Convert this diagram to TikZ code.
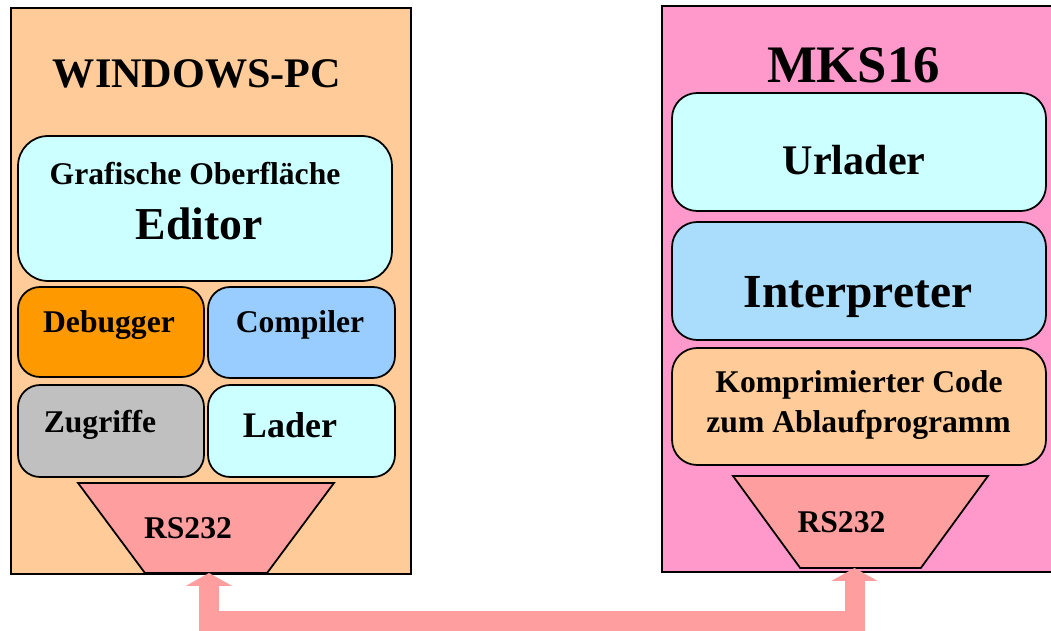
\documentclass[tikz,border=0pt]{standalone}
\usepackage{fontspec}
\setmainfont{Liberation Serif}
\usetikzlibrary{arrows.meta, positioning, shapes.geometric}
\definecolor{pcpeach}{RGB}{255, 204, 153}
\definecolor{mkspink}{RGB}{255, 153, 204}
\definecolor{lightcyan}{RGB}{204, 255, 255}
\definecolor{dbgorange}{RGB}{255, 153, 0}
\definecolor{cmpblue}{RGB}{153, 204, 255}
\definecolor{accgray}{RGB}{192, 192, 192}
\definecolor{intblue}{RGB}{170, 221, 252}
\definecolor{rsred}{RGB}{255, 158, 158}

\begin{document}
\begin{tikzpicture}[x=0.02cm, y=-0.02cm,
  panel/.style={draw, line width=0.9pt, rectangle, inner sep=0pt, outer sep=0pt},
  module/.style={draw, line width=1pt, rectangle, rounded corners=#1, inner sep=0pt, outer sep=0pt},
  module/.default=0.44cm,
  port/.style={draw, line width=1pt, fill=rsred, trapezium, trapezium stretches=true,
    shape border rotate=180, inner sep=2pt, outer sep=0pt},
  lbl/.style={font=\bfseries\fontsize{#1}{#1}\selectfont, anchor=base, inner sep=0pt},
  link/.style={draw=rsred, line width=0.4cm,
    {Triangle[width=0.92cm, length=0.26cm]}-{Triangle[width=0.92cm, length=0.26cm]}}]
\useasboundingbox (0,0) rectangle (1051,631);
\clip (0,0) rectangle (1051,631);

% Windows PC side
\node[panel, fill=pcpeach, minimum width=8cm, minimum height=11.32cm] (pc) at (211,291) {};
\node[module=0.6cm, fill=lightcyan, minimum width=7.48cm, minimum height=2.9cm] (editor) at (205,208.5) {};
\node[module, fill=dbgorange, minimum width=3.72cm, minimum height=1.8cm] (debugger) at (111,332) {};
\node[module, fill=cmpblue, minimum width=3.74cm, minimum height=1.82cm] (compiler) at (301.5,332.5) {};
\node[module, fill=accgray, minimum width=3.72cm, minimum height=1.84cm] (zugriffe) at (111,431) {};
\node[module, fill=lightcyan, minimum width=3.74cm, minimum height=1.84cm] (lader) at (301.5,431) {};
\node[port, minimum width=5.12cm, minimum height=1.8cm, trapezium angle=61.3] (pcrs) at (206,528) {};

% MKS16 side
\node[panel, fill=mkspink, minimum width=8cm, minimum height=11.32cm] (mks) at (862,289) {};
\node[module=0.5cm, fill=lightcyan, minimum width=7.48cm, minimum height=2.36cm] (urlader) at (859,152) {};
\node[module=0.5cm, fill=intblue, minimum width=7.48cm, minimum height=2.36cm] (interp) at (859,281) {};
\node[module=0.5cm, fill=pcpeach, minimum width=7.48cm, minimum height=2.34cm] (kcode) at (859,406.5) {};
\node[port, minimum width=5.1cm, minimum height=1.84cm, trapezium angle=60.9] (mksrs) at (860.5,522) {};

% serial link
\draw[link] ([xshift=0.06cm]pcrs.south) -- ++(0,48) -| ([xshift=-0.12cm]mksrs.south);

% texts
\node[lbl=24] (pctitle) at (197,88) {WINDOWS-PC};
\node[lbl=18] (guitxt) at (195,185) {Grafische Oberfläche};
\node[lbl=26] (edtxt) at (199,240) {Editor};
\node[lbl=18] (dbgtxt) at (109,333) {Debugger};
\node[lbl=18] (cmptxt) at (300,333) {Compiler};
\node[lbl=18] (acctxt) at (100,432) {Zugriffe};
\node[lbl=20.5] (ldtxt) at (290,437) {Lader};
\node[lbl=18] (pcrstxt) at (188,538) {RS232};

\node[lbl=30] (mkstitle) at (853.5,83) {MKS16};
\node[lbl=24] (urltxt) at (854,175) {Urlader};
\node[lbl=27] (inttxt) at (858,308) {Interpreter};
\node[lbl=18] (kctxta) at (859,393) {Komprimierter Code};
\node[lbl=18] (kctxtb) at (858.5,432) {zum Ablaufprogramm};
\node[lbl=18] (mksrstxt) at (841.5,532) {RS232};
\end{tikzpicture}
\end{document}
